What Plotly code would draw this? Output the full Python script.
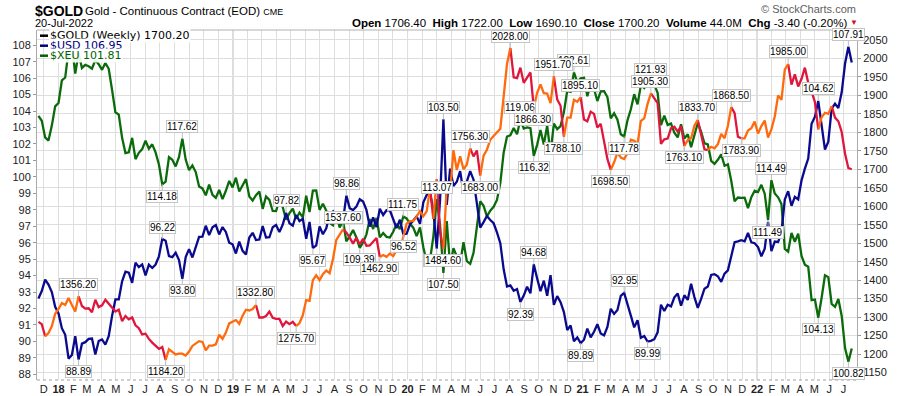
import plotly.graph_objects as go
import pandas as pd

# ---------------- DATA (weekly closes, weeks labelled by their Monday) ----------------
START = "2017-11-20"

GOLD_2017 = [1287, 1281, 1248, 1257, 1275, 1309]
GOLD_2018 = [1322, 1338, 1333, 1352, 1333, 1315, 1356.2, 1330, 1323, 1324, 1313, 1347, 1327,
             1332, 1347, 1336, 1323, 1315, 1320, 1289, 1303, 1294, 1299, 1278, 1270, 1253,
             1255, 1241, 1231, 1223, 1214, 1219, 1184.2, 1213, 1206, 1199, 1201, 1201, 1196,
             1207, 1222, 1229, 1235, 1233, 1210, 1223, 1223, 1226, 1252, 1241, 1258, 1283, 1287]
GOLD_2019 = [1292, 1282, 1304, 1320, 1318, 1322, 1332.8, 1299, 1299, 1303, 1315, 1298, 1295,
             1295, 1276, 1288, 1281, 1287, 1275.7, 1284, 1305, 1346, 1344, 1400, 1413, 1400,
             1416, 1426, 1419, 1457, 1509, 1523, 1537.6, 1529, 1515, 1499, 1515, 1497, 1512,
             1493, 1494, 1505, 1514, 1462.9, 1468, 1463, 1472, 1465, 1481, 1481, 1515, 1553]
GOLD_2020 = [1560, 1560, 1572, 1587, 1573, 1586, 1649, 1566, 1673, 1530, 1484.6, 1654, 1637,
             1752, 1698, 1735, 1700, 1713, 1756.3, 1735, 1751, 1683.0, 1737, 1753, 1780, 1790,
             1801, 1810, 1897, 1985, 2028.0, 1949, 1947, 1975, 1934, 1947, 1962, 1866.3, 1907,
             1930, 1906, 1905, 1879, 1951.7, 1889, 1872, 1788.1, 1840, 1840, 1888, 1883, 1895.1]
GOLD_2021 = [1835, 1830, 1856, 1850, 1813, 1823, 1777, 1728, 1698.5, 1719, 1745, 1732, 1728,
             1744, 1780, 1777, 1768, 1831, 1838, 1877, 1905.3, 1892, 1879, 1769, 1781, 1783,
             1811, 1815, 1802, 1817, 1763.1, 1779, 1784, 1818, 1833.7, 1791, 1754, 1752, 1761,
             1757, 1768, 1796, 1784, 1818, 1868.5, 1852, 1788, 1783.9, 1784, 1805, 1811, 1829]
GOLD_2022 = [1797, 1817, 1832, 1786, 1808, 1843, 1900, 1888, 1970, 1985.0, 1929, 1957, 1924,
             1945, 1975, 1934, 1911, 1882, 1808, 1841, 1853, 1850, 1871, 1840, 1830, 1801,
             1742, 1703, 1700.2]

USD_2017 = [92.60, 93.06, 93.75, 93.45, 93.00, 92.10]
USD_2018 = [91.70, 90.80, 90.40, 88.95, 89.17, 90.32, 88.89, 89.86, 89.95, 90.15, 90.17, 89.20,
            90.02, 90.12, 89.80, 90.32, 91.55, 92.55, 92.55, 93.65, 94.24, 94.17, 93.56, 94.79,
            94.51, 94.68, 94.01, 94.66, 94.46, 94.67, 95.17, 96.22, 96.11, 95.18, 95.12, 95.39,
            94.94, 93.80, 95.13, 95.61, 95.10, 95.72, 96.35, 96.37, 97.03, 96.46, 96.93, 97.07,
            96.50, 96.95, 96.65, 96.00, 95.90]
USD_2019 = [95.34, 96.06, 95.50, 95.28, 96.31, 96.60, 96.16, 96.19, 97.01, 96.31, 96.33, 96.94,
            97.08, 96.64, 97.10, 97.82, 97.18, 97.03, 97.68, 97.31, 97.45, 96.24, 97.26, 95.67,
            95.83, 96.98, 96.51, 96.87, 97.72, 97.89, 97.24, 97.86, 97.34, 98.86, 98.10, 97.98,
            98.19, 98.64, 98.50, 97.99, 96.98, 97.53, 96.95, 98.06, 97.68, 97.97, 97.97, 97.40,
            96.88, 97.39, 96.52, 96.54]
USD_2020 = [97.10, 97.35, 97.60, 97.15, 98.45, 98.90, 99.05, 97.95, 95.64, 98.60, 103.50, 98.30,
            100.50, 99.45, 99.70, 100.35, 99.05, 99.72, 100.35, 99.83, 98.32, 96.92, 97.25, 97.62,
            97.38, 97.18, 96.63, 95.97, 94.38, 93.33, 93.40, 93.08, 93.18, 92.39, 92.78, 93.32,
            92.92, 94.68, 93.83, 93.05, 93.69, 92.77, 94.03, 92.22, 92.75, 92.38, 91.78, 90.69,
            90.97, 90.01, 90.24, 89.89]
USD_2021 = [90.10, 90.77, 90.24, 90.58, 91.04, 90.48, 90.36, 90.88, 91.98, 91.67, 91.91, 92.77,
            92.95, 92.17, 91.56, 90.85, 91.28, 90.22, 90.32, 89.99, 90.03, 90.13, 90.55, 92.23,
            91.85, 92.23, 92.13, 92.68, 92.90, 92.17, 92.80, 92.52, 93.50, 92.69, 92.04, 92.58,
            93.20, 93.33, 94.04, 94.08, 93.96, 93.62, 94.12, 94.32, 95.12, 96.03, 96.08, 96.15,
            96.08, 96.60, 96.02, 95.97]
USD_2022 = [95.73, 95.17, 95.64, 97.27, 95.48, 96.07, 96.04, 96.62, 98.62, 99.13, 98.24, 98.79,
            98.63, 99.79, 100.50, 101.11, 103.23, 103.66, 104.62, 103.17, 101.66, 102.14, 104.15,
            104.45, 104.19, 105.14, 106.89, 107.91, 106.95]

XEU_2017 = [119.33, 118.96, 117.71, 117.47, 118.60, 120.05]
XEU_2018 = [120.30, 122.00, 122.22, 124.27, 124.61, 122.52, 124.07, 122.94, 123.17, 123.07,
            122.88, 123.54, 123.22, 122.80, 123.31, 122.88, 121.29, 119.60, 119.43, 117.68,
            116.53, 116.59, 117.68, 116.07, 116.55, 116.83, 117.46, 116.86, 117.19, 116.58,
            115.67, 114.18, 114.38, 116.22, 116.03, 115.52, 116.24, 117.62, 116.04, 115.24,
            115.60, 115.10, 114.02, 113.87, 113.35, 114.15, 113.39, 113.16, 113.75, 113.06,
            113.69, 114.43, 113.95]
XEU_2019 = [114.68, 113.64, 114.07, 114.57, 113.26, 112.96, 113.36, 113.64, 112.33, 113.26,
            113.01, 112.17, 112.16, 113.00, 112.45, 111.51, 112.01, 112.34, 111.58, 112.05,
            111.69, 113.32, 112.09, 113.70, 113.72, 112.25, 112.71, 112.19, 111.27, 111.09,
            112.02, 110.92, 111.43, 109.89, 110.27, 110.73, 110.17, 109.39, 109.79, 110.41,
            111.56, 110.81, 111.65, 110.18, 110.51, 110.22, 110.17, 110.60, 111.20, 110.80,
            111.75, 111.61]
XEU_2020 = [111.21, 110.91, 110.27, 110.93, 109.44, 108.31, 108.47, 110.26, 113.07, 111.06,
            107.50, 111.41, 108.04, 109.36, 108.75, 108.20, 109.82, 108.39, 108.19, 109.02,
            110.98, 112.90, 112.56, 111.77, 112.19, 112.48, 113.00, 114.27, 116.56, 117.78,
            117.87, 118.42, 117.95, 119.06, 118.38, 118.46, 118.40, 116.32, 117.15, 118.27,
            117.18, 118.61, 116.47, 118.75, 118.33, 118.56, 119.62, 121.22, 121.14, 122.61,
            121.88, 122.16]
XEU_2021 = [122.20, 120.81, 121.70, 121.36, 120.45, 121.18, 121.19, 120.75, 119.15, 119.53,
            119.05, 117.95, 117.78, 119.00, 119.83, 120.97, 120.20, 121.65, 121.43, 121.80,
            121.93, 121.69, 121.07, 118.64, 119.36, 118.65, 118.75, 118.06, 117.71, 118.70,
            117.62, 117.95, 116.98, 117.95, 118.80, 118.13, 117.26, 117.18, 115.95, 115.72,
            116.02, 116.44, 115.58, 115.68, 114.45, 112.90, 113.18, 113.16, 113.17, 112.39,
            113.21, 113.70]
XEU_2022 = [113.60, 114.14, 113.47, 111.49, 114.49, 113.49, 113.20, 112.70, 109.32, 109.11,
            110.51, 109.85, 110.46, 108.78, 108.12, 107.97, 105.45, 105.50, 104.13, 105.63,
            107.33, 107.19, 105.17, 104.95, 105.54, 104.26, 101.84, 100.82, 101.81]

GOLD = GOLD_2017 + GOLD_2018 + GOLD_2019 + GOLD_2020 + GOLD_2021 + GOLD_2022
USD = USD_2017 + USD_2018 + USD_2019 + USD_2020 + USD_2021 + USD_2022
XEU = XEU_2017 + XEU_2018 + XEU_2019 + XEU_2020 + XEU_2021 + XEU_2022

# swing points of the gold line (trend legs are coloured up / down)
GOLD_PIVOTS = ["2017-11-20", "2017-12-04", "2018-02-12", "2018-08-13", "2019-02-18",
               "2019-05-13", "2019-08-19", "2019-11-04", "2020-02-17", "2020-02-24",
               "2020-03-02", "2020-03-16", "2020-05-11", "2020-06-01", "2020-08-03",
               "2020-09-21", "2020-11-02", "2020-11-23", "2020-12-28", "2021-03-01",
               "2021-05-24", "2021-08-02", "2021-08-30", "2021-09-20", "2021-11-08",
               "2021-11-29", "2022-03-07", "2022-05-09", "2022-06-06", "2022-07-18"]

# labelled peaks (1 = label above) / troughs (-1 = label below)
GOLD_LABELS = [("2018-02-12", 1), ("2018-08-13", -1), ("2019-02-18", 1), ("2019-05-13", -1),
               ("2019-08-19", 1), ("2019-11-04", -1), ("2020-03-16", -1), ("2020-05-11", 1),
               ("2020-06-01", -1), ("2020-08-03", 1), ("2020-09-21", -1), ("2020-11-02", 1),
               ("2020-11-23", -1), ("2020-12-28", 1), ("2021-03-01", -1), ("2021-05-24", 1),
               ("2021-08-02", -1), ("2021-08-30", 1), ("2021-11-08", 1), ("2021-11-29", -1),
               ("2022-03-07", 1)]
USD_LABELS = [("2018-02-12", -1), ("2018-08-06", 1), ("2018-09-17", -1), ("2019-04-22", 1),
              ("2019-06-17", -1), ("2019-08-26", 1), ("2019-12-23", -1), ("2020-03-02", -1),
              ("2020-03-16", 1), ("2020-08-24", -1), ("2020-09-21", 1), ("2020-12-28", -1),
              ("2021-03-29", 1), ("2021-05-17", -1), ("2022-05-09", 1), ("2022-07-11", 1)]
XEU_LABELS = [("2018-08-06", -1), ("2018-09-17", 1), ("2019-09-23", -1), ("2019-12-23", 1),
              ("2020-03-02", 1), ("2020-03-16", -1), ("2020-08-24", 1), ("2020-09-21", -1),
              ("2020-12-14", 1), ("2021-03-29", -1), ("2021-05-24", 1), ("2022-01-24", -1),
              ("2022-01-31", 1), ("2022-05-09", -1), ("2022-07-11", -1)]

MONTH_LETTERS = ["J", "F", "M", "A", "M", "J", "J", "A", "S", "O", "N", "D"]

HEADER_SYMBOL = "$GOLD"
HEADER_NAME = "Gold - Continuous Contract (EOD)"
HEADER_EXCH = "CME"
HEADER_DATE = "20-Jul-2022"
QUOTE = [("Open", "1706.40"), ("High", "1722.00"), ("Low", "1690.10"),
         ("Close", "1700.20"), ("Volume", "44.0M"), ("Chg", "-3.40 (-0.20%)")]
LEGEND = [("$GOLD (Weekly) 1700.20", "#000000"), ("$USD 106.95", "#000080"),
          ("$XEU 101.81", "#006400")]

# ---------------- FIGURE ----------------
dates = pd.date_range(START, periods=len(GOLD), freq="W-MON")
assert len(GOLD) == len(USD) == len(XEU)
pos = {d.strftime("%Y-%m-%d"): i for i, d in enumerate(dates)}

W, H = 900, 396
L, R, T, B = 37, 857, 30, 380
FONT = "Liberation Sans, Arial, sans-serif"
VFONT = "DejaVu Sans, Verdana, sans-serif"


def px(x):
    return (x - L) / (R - L)


def py(y):
    return (B - y) / (B - T)


fig = go.Figure()

# XEU on base axis (drawn first)
fig.add_trace(go.Scatter(x=dates, y=XEU, mode="lines", yaxis="y",
                         line=dict(color="#0b6b0b", width=2.3), hoverinfo="skip"))
fig.add_trace(go.Scatter(x=dates, y=USD, mode="lines", yaxis="y2",
                         line=dict(color="#0a0a8f", width=2.3), hoverinfo="skip"))

# gold: trend legs coloured
up_x, up_y, dn_x, dn_y = [], [], [], []
for a, b in zip(GOLD_PIVOTS[:-1], GOLD_PIVOTS[1:]):
    i0, i1 = pos[a], pos[b]
    xs = list(dates[i0:i1 + 1])
    ys = GOLD[i0:i1 + 1]
    if GOLD[i1] >= GOLD[i0]:
        up_x += xs + [None]
        up_y += ys + [None]
    else:
        dn_x += xs + [None]
        dn_y += ys + [None]
fig.add_trace(go.Scatter(x=dn_x, y=dn_y, mode="lines", yaxis="y3",
                         line=dict(color="#e0163c", width=2.3), hoverinfo="skip"))
fig.add_trace(go.Scatter(x=up_x, y=up_y, mode="lines", yaxis="y3",
                         line=dict(color="#ff6a0d", width=2.3), hoverinfo="skip"))

annotations = []


def add_labels(vals, yref, lst):
    for d, s in lst:
        i = pos[d]
        v = vals[i]
        annotations.append(dict(x=dates[i], y=v, xref="x", yref=yref, text=f"{v:.2f}",
                                showarrow=True, arrowhead=0, arrowwidth=1,
                                arrowcolor="#bdbdbd", ax=0, ay=-12 * s, standoff=0,
                                bgcolor="white", bordercolor="#c4c4c4", borderwidth=1,
                                borderpad=0, font=dict(family=FONT, size=10, color="#000")))


add_labels(XEU, "y", XEU_LABELS)
add_labels(USD, "y2", USD_LABELS)
add_labels(GOLD, "y3", GOLD_LABELS)

# month ticks
months = pd.date_range("2017-12-01", "2022-07-01", freq="MS")
tickvals = list(months)
ticktext = [f"<b>{m.strftime('%y')}</b>" if m.month == 1 else MONTH_LETTERS[m.month - 1]
            for m in months]

shapes = []
for m in months:
    if m.month == 1:
        shapes.append(dict(type="line", xref="x", yref="paper", x0=m, x1=m, y0=0, y1=1,
                           line=dict(color="#b8b8b8", width=1), layer="below"))
# frame
shapes.append(dict(type="line", xref="paper", yref="paper", x0=0, x1=1, y0=1, y1=1,
                   line=dict(color="#b0b0b0", width=1)))
shapes.append(dict(type="line", xref="paper", yref="paper", x0=0, x1=1, y0=0, y1=0,
                   line=dict(color="#a0a0a0", width=1, dash="dot")))
# legend dashes
for k, (txt, col) in enumerate(LEGEND):
    yy = py(35.7 + 10 * k)
    shapes.append(dict(type="line", xref="paper", yref="paper", x0=px(40), x1=px(48),
                       y0=yy, y1=yy, line=dict(color=col, width=2.5)))

for k, (txt, col) in enumerate(LEGEND):
    annotations.append(dict(xref="paper", yref="paper", x=px(49), y=py(35.7 + 10 * k),
                            xanchor="left", yanchor="middle", text=txt, showarrow=False,
                            bgcolor="rgba(255,255,255,0.9)", borderpad=0,
                            font=dict(family=VFONT, size=11, color=col)))

annotations.append(dict(xref="paper", yref="paper", x=px(33), y=py(11), xanchor="left",
                        yanchor="middle", showarrow=False,
                        text=f"<b>{HEADER_SYMBOL}</b>",
                        font=dict(family=FONT, size=14, color="#000")))
annotations.append(dict(xref="paper", yref="paper", x=px(83), y=py(11.5), xanchor="left",
                        yanchor="middle", showarrow=False,
                        text=f"{HEADER_NAME} <span style='font-size:9px'>{HEADER_EXCH}</span>",
                        font=dict(family=FONT, size=11.5, color="#000")))
annotations.append(dict(xref="paper", yref="paper", x=px(33), y=py(23), xanchor="left",
                        yanchor="middle", showarrow=False, text=HEADER_DATE,
                        font=dict(family=FONT, size=11, color="#000")))
quote_txt = "  ".join(f"<b>{k}</b> {v}" for k, v in QUOTE)
annotations.append(dict(xref="paper", yref="paper", x=px(849), y=py(23), xanchor="right",
                        yanchor="middle", showarrow=False, text=quote_txt,
                        font=dict(family=FONT, size=11.5, color="#000")))
annotations.append(dict(xref="paper", yref="paper", x=px(854), y=py(23), xanchor="center",
                        yanchor="middle", showarrow=False, text="▼",
                        font=dict(family=FONT, size=8, color="#c8102e")))
annotations.append(dict(xref="paper", yref="paper", x=px(858), y=py(9), xanchor="right",
                        yanchor="middle", showarrow=False, text="© StockCharts.com",
                        font=dict(family=FONT, size=11, color="#606060")))

fig.update_layout(
    width=W, height=H, autosize=False,
    margin=dict(l=L, r=W - R, t=T, b=H - B, pad=0, autoexpand=False),
    paper_bgcolor="white", plot_bgcolor="white",
    showlegend=False,
    xaxis=dict(type="date", range=["2017-11-17", "2022-07-29"], tickvals=tickvals,
               ticktext=ticktext, showgrid=True, gridcolor="#dedede", gridwidth=1,
               ticks="", showline=False, zeroline=False, ticklabelstandoff=1,
               automargin=False, tickfont=dict(family=FONT, size=11, color="#222")),
    yaxis=dict(range=[99.44, 125.80], visible=False, showgrid=False, zeroline=False,
               automargin=False),
    yaxis2=dict(range=[87.65, 108.93], overlaying="y", side="left", anchor="x",
                tickvals=list(range(88, 109)), showgrid=False, zeroline=False,
                ticks="outside", ticklen=3, tickcolor="#999", showline=True, automargin=False,
                linecolor="#aaaaaa", tickfont=dict(family=FONT, size=11, color="#222")),
    yaxis3=dict(range=[1129.8, 2077.0], overlaying="y", side="right", anchor="x",
                tickvals=list(range(1150, 2051, 50)), showgrid=True, gridcolor="#dedede",
                zeroline=False, ticks="outside", ticklen=3, tickcolor="#999", showline=True,
                automargin=False,
                linecolor="#aaaaaa", tickfont=dict(family=FONT, size=11, color="#222")),
    shapes=shapes,
    annotations=annotations,
)

fig.write_html("out.html", config={"displayModeBar": False, "staticPlot": True},
               post_script="document.body.style.margin='0px';"
                           "document.body.style.overflow='hidden';")
